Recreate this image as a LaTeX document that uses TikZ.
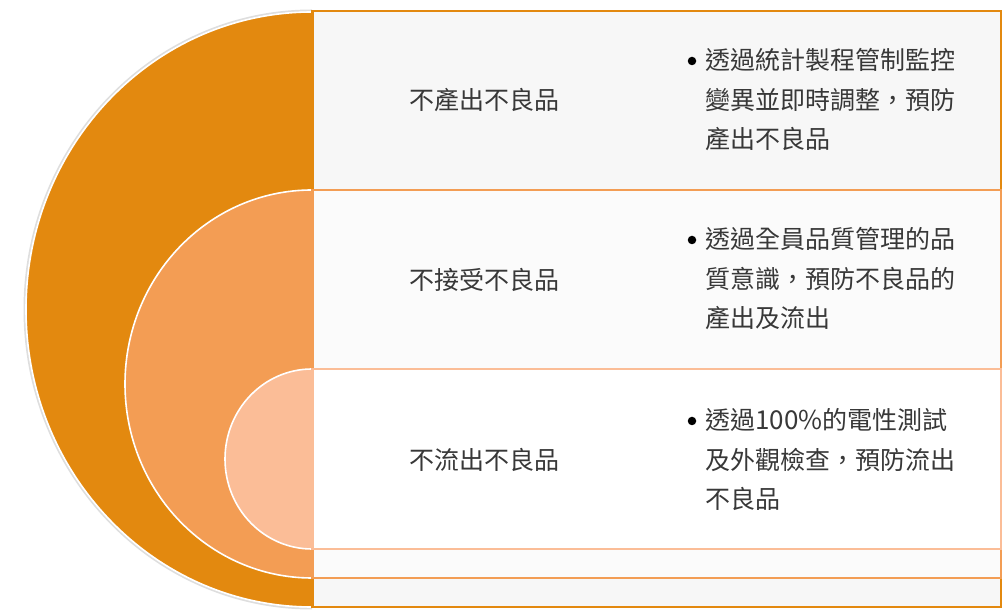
\documentclass[tikz,border=0pt]{standalone}
\usepackage{fontspec}
\setmainfont{Noto Sans CJK TC}
\definecolor{ordark}{HTML}{E3890F}
\definecolor{ormid}{HTML}{F39D54}
\definecolor{orlight}{HTML}{FBBD97}
\definecolor{fillA}{HTML}{F7F7F7}
\definecolor{fillB}{HTML}{FBFBFB}
\definecolor{txt}{HTML}{383838}
\tikzset{
  disk/.style={draw=white, line width=1.6pt},
  panel/.style={line width=2.4pt},
  label/.style={inner sep=0pt, text=txt, font=\fontsize{25}{39.5}\selectfont},
  body/.style={inner sep=0pt, text=txt, align=left, anchor=west, font=\fontsize{25}{39.5}\selectfont},
  dot/.style={circle, fill=black, inner sep=0pt, minimum size=8.5pt}
}
\begin{document}
\begin{tikzpicture}[x=1pt,y=1pt]
\useasboundingbox (0,0) rectangle (1004,610);
% shadow of outer disk
\draw[black!13, line width=2pt] (312,599.5) arc[start angle=90, end angle=270, x radius=287.5, y radius=299] ;
% half disks
\filldraw[disk, fill=ordark] (312,598) arc[start angle=90, end angle=270, x radius=286, y radius=297.5] -- cycle;
\filldraw[disk, fill=ormid] (312,420) arc[start angle=90, end angle=270, x radius=187, y radius=194] -- cycle;
\filldraw[disk, fill=orlight] (312,241) arc[start angle=90, end angle=270, x radius=87, y radius=90] -- cycle;
% panels
\filldraw[panel, draw=ordark, fill=fillA] (312.5,3) rectangle (1001,599);
\filldraw[panel, draw=ormid, fill=fillB] (312.5,32) rectangle (1001,420);
\filldraw[panel, draw=orlight, fill=white] (312.5,61) rectangle (1001,241);
% labels
\node[label] (l1) at (484,510) {不產出不良品};
\node[label] (l2) at (484,330) {不接受不良品};
\node[label] (l3) at (484,150) {不流出不良品};
% bullets
\node[dot] (d1) at (692,549) {};
\node[body] (b1) at (705,510) {透過統計製程管制監控\\變異並即時調整，預防\\產出不良品};
\node[dot] (d2) at (692,370) {};
\node[body] (b2) at (705,331) {透過全員品質管理的品\\質意識，預防不良品的\\產出及流出};
\node[dot] (d3) at (692,189) {};
\node[body] (b3) at (705,150) {透過{\fontsize{26}{39.5}\selectfont 100\%}的電性測試\\及外觀檢查，預防流出\\不良品};
\end{tikzpicture}
\end{document}
